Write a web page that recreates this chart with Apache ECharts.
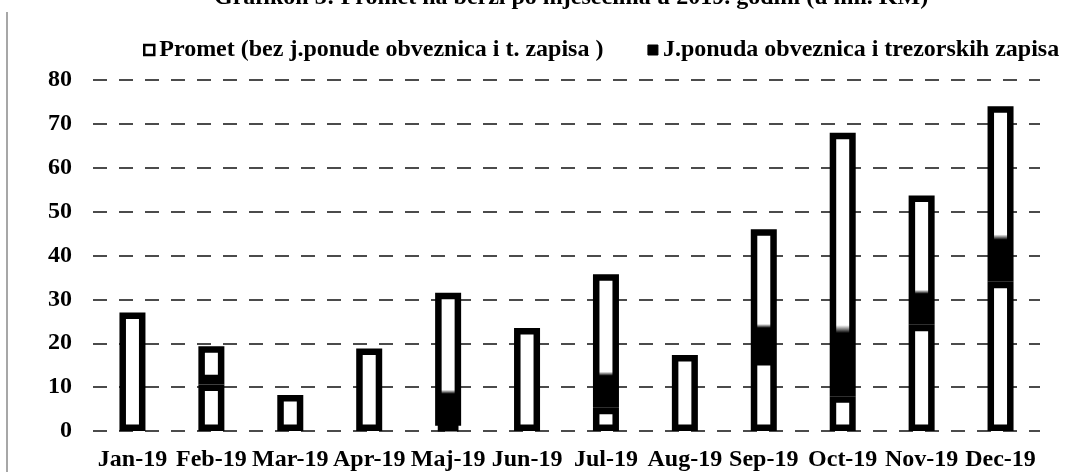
<!DOCTYPE html>
<html>
<head>
<meta charset="utf-8">
<script src="https://cdn.jsdelivr.net/npm/echarts@6/dist/echarts.min.js"></script>
<style>
  html, body { margin: 0; padding: 0; background: #fff; }
  #chart { width: 1077px; height: 472px; }
</style>
</head>
<body>
<div id="chart"></div>
<script>
// Monthly turnover (mil. KM), 2019
const months = ['Jan-19', 'Feb-19', 'Mar-19', 'Apr-19', 'Maj-19', 'Jun-19',
                'Jul-19', 'Aug-19', 'Sep-19', 'Oct-19', 'Nov-19', 'Dec-19'];
const promet = [27, 10.6, 8.2, 18.8, 1.2, 23.5, 5.3, 17.3, 16.4, 7.9, 24.2, 34];
const javnaPonuda = [0, 8.7, 0, 0, 30.3, 0, 30.4, 0, 29.6, 60.1, 29.5, 40];
const yTicks = [0, 10, 20, 30, 40, 50, 60, 70, 80];

const seriesNames = [
  'Promet (bez j.ponude obveznica i t. zapisa )',
  'J.ponuda obveznica i trezorskih zapisa'
];
const titleText = 'Grafikon 3: Promet na berzi po mjesecima u 2019. godini (u mil. KM)';

const font = '"Liberation Serif", "Times New Roman", serif';
const chart = echarts.init(document.getElementById('chart'), null, { renderer: 'canvas' });

// white body with a black lower band for the public-offer segment
const darkBase = {
  type: 'linear', x: 0, y: 0, x2: 0, y2: 1,
  colorStops: [
    { offset: 0, color: '#ffffff' },
    { offset: 0.73, color: '#ffffff' },
    { offset: 0.76, color: '#000000' },
    { offset: 1, color: '#000000' }
  ]
};

chart.setOption({
  animation: false,
  backgroundColor: '#ffffff',
  textStyle: { fontFamily: font },
  graphic: [
    {
      type: 'text', x: 214, y: 10,
      style: {
        text: titleText, align: 'left', verticalAlign: 'bottom',
        font: 'bold 24px ' + font, fill: '#000'
      }
    },
    {
      type: 'line', shape: { x1: 7, y1: 12, x2: 7, y2: 472 },
      style: { stroke: '#8a8a8a', lineWidth: 1.5 }
    }
  ],
  legend: {
    top: 33, left: 138,
    itemGap: 44, itemWidth: 10, itemHeight: 10,
    icon: 'rect',
    textStyle: { fontFamily: font, fontWeight: 'bold', fontSize: 24, color: '#000' },
    data: [
      { name: seriesNames[0], itemStyle: { color: '#fff', borderColor: '#000', borderWidth: 2.5 } },
      { name: seriesNames[1], itemStyle: { color: '#000', borderColor: '#000', borderWidth: 1 } }
    ]
  },
  grid: { left: 93, right: 37, top: 80, bottom: 41, containLabel: false },
  xAxis: {
    type: 'category',
    data: months,
    axisLine: { show: false },
    axisTick: { show: false },
    axisLabel: {
      margin: 17, fontFamily: font, fontWeight: 'bold', fontSize: 24,
      color: '#000', interval: 0
    }
  },
  yAxis: {
    type: 'value',
    min: yTicks[0], max: yTicks[yTicks.length - 1], interval: 10,
    axisLine: { show: false },
    axisTick: { show: false },
    axisLabel: {
      margin: 21, fontFamily: font, fontWeight: 'bold', fontSize: 24, color: '#000'
    },
    splitLine: {
      lineStyle: { color: '#111', width: 1.5, type: [14, 12] }
    }
  },
  series: [
    {
      name: seriesNames[0], type: 'bar', stack: 'total',
      barWidth: 26,
      data: promet,
      itemStyle: { color: '#ffffff', borderColor: '#000', borderWidth: 6.5 }
    },
    {
      name: seriesNames[1], type: 'bar', stack: 'total',
      barWidth: 26,
      data: javnaPonuda.map(v => (v === 0 ? null : v)),
      itemStyle: { color: darkBase, borderColor: '#000', borderWidth: 6.5 }
    }
  ]
});
</script>
</body>
</html>
